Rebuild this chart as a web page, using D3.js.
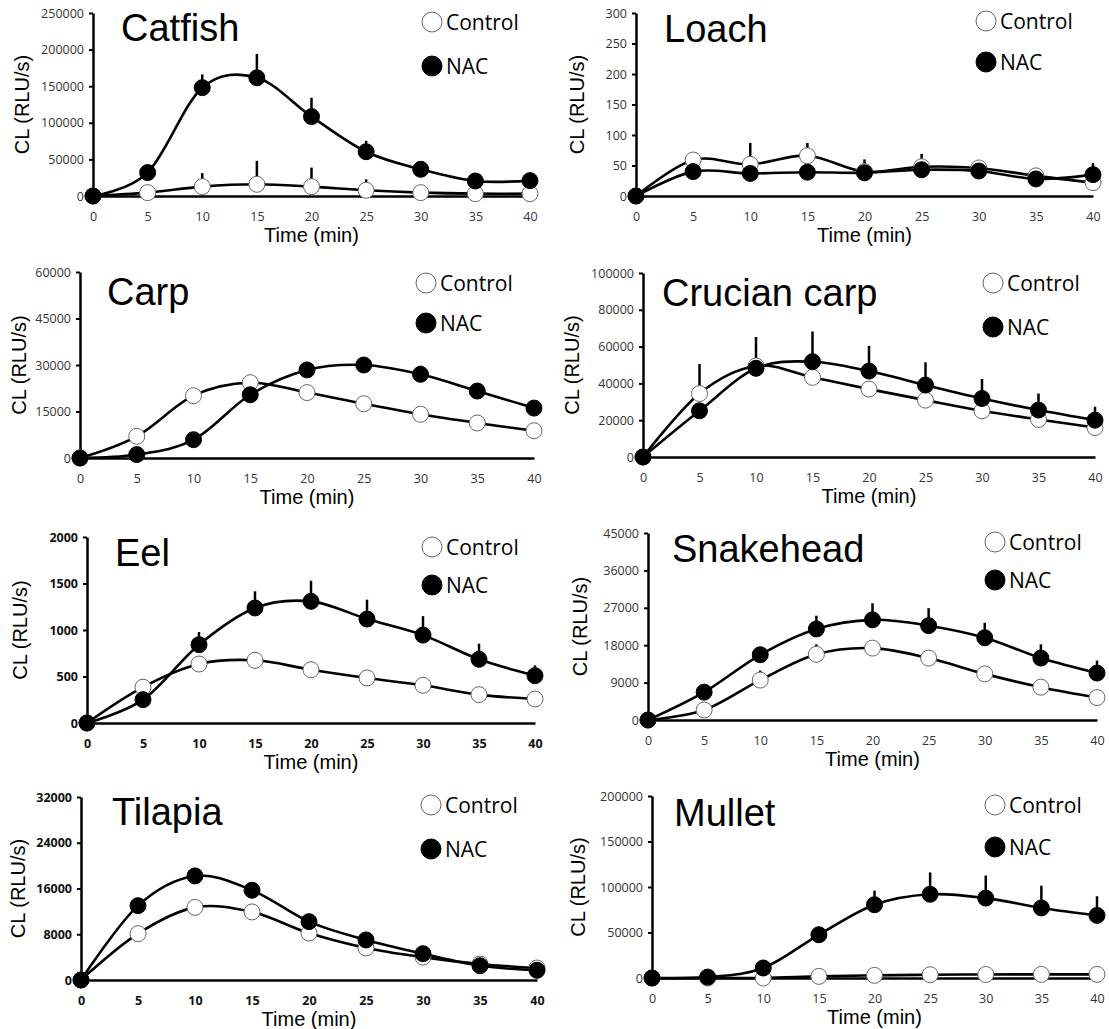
<!DOCTYPE html>
<html>
<head>
<meta charset="utf-8">
<script src="https://cdn.jsdelivr.net/npm/d3@7"></script>
<style>
  body { margin: 0; background: #fff; }
  svg { display: block; }
</style>
</head>
<body>
<div id="chart"></div>
<script>
// sampling times (min)
const times = [0, 5, 10, 15, 20, 25, 30, 35, 40];

// CL (RLU/s), means and SD (0 = bar not visible)
const catfishControl = [0, 4600, 12800, 16000, 12800, 7800, 4600, 3200, 3200];
const catfishNac = [0, 32000, 148000, 161500, 108500, 60500, 36500, 20500, 21000];
const catfishControlErr = [0, 0, 18400, 32000, 26000, 15000, 0, 0, 0];
const catfishNacErr = [0, 0, 18000, 32500, 25700, 15000, 0, 0, 0];

const loachControl = [0, 59, 52, 66, 40, 48, 46, 33, 22];
const loachNac = [0, 40, 37, 39, 38, 43, 41, 28, 35];
const loachControlErr = [0, 0, 35, 21, 0, 21, 0, 13, 0];
const loachNacErr = [0, 0, 0, 0, 22, 0, 0, 0, 19];

const carpControl = [0, 7000, 20100, 24300, 21100, 17500, 14100, 11300, 8800];
const carpNac = [0, 1100, 5900, 20400, 28400, 30000, 27000, 21600, 16100];
const carpControlErr = [0, 0, 0, 0, 0, 0, 0, 0, 0];
const carpNacErr = [0, 0, 0, 0, 0, 0, 2800, 2000, 0];

const crucianControl = [0, 34500, 49500, 43300, 36900, 30900, 25100, 20400, 16000];
const crucianNac = [0, 25100, 48200, 51800, 46700, 39100, 31800, 25500, 20000];
const crucianControlErr = [0, 16000, 0, 0, 0, 0, 0, 0, 0];
const crucianNacErr = [0, 0, 17000, 16400, 13700, 12400, 10600, 9000, 7300];

const eelControl = [0, 385, 634, 674, 573, 484, 405, 305, 258];
const eelNac = [0, 251, 842, 1237, 1308, 1118, 945, 685, 509];
const eelControlErr = [0, 0, 0, 0, 0, 0, 0, 0, 0];
const eelNacErr = [0, 0, 136, 179, 222, 208, 204, 168, 111];

const snakeheadControl = [0, 2400, 9600, 15800, 17300, 14900, 11100, 7900, 5400];
const snakeheadNac = [0, 6700, 15700, 21900, 24100, 22700, 19800, 14900, 11300];
const snakeheadControlErr = [0, 0, 2300, 2400, 0, 0, 0, 0, 0];
const snakeheadNacErr = [0, 0, 0, 3200, 4000, 4200, 3600, 3300, 3000];

const tilapiaControl = [0, 8100, 12700, 11900, 8200, 5600, 4000, 2800, 2100];
const tilapiaNac = [0, 13000, 18200, 15700, 10200, 7000, 4600, 2500, 1700];
const tilapiaControlErr = [0, 0, 0, 0, 0, 0, 0, 0, 0];
const tilapiaNacErr = [0, 0, 0, 0, 0, 0, 0, 0, 0];

const mulletControl = [0, 0, 0, 1800, 2900, 3600, 3900, 4000, 4000];
const mulletNac = [0, 1000, 11000, 47500, 80500, 92000, 87800, 77000, 68800];
const mulletControlErr = [0, 0, 0, 0, 0, 0, 0, 0, 0];
const mulletNacErr = [0, 0, 0, 9000, 15400, 24000, 24800, 24500, 21000];

// y-axis tick values per panel
const catfishTicks = [0, 50000, 100000, 150000, 200000, 250000];
const loachTicks = [0, 50, 100, 150, 200, 250, 300];
const carpTicks = [0, 15000, 30000, 45000, 60000];
const crucianTicks = [0, 20000, 40000, 60000, 80000, 100000];
const eelTicks = [0, 500, 1000, 1500, 2000];
const snakeheadTicks = [0, 9000, 18000, 27000, 36000, 45000];
const tilapiaTicks = [0, 8000, 16000, 24000, 32000];
const mulletTicks = [0, 50000, 100000, 150000, 200000];

const labels = ['Control', 'NAC'];

const W = 1109, H = 1029;

// panel placement on the page
const panels = [
  { name: 'Catfish', control: catfishControl, nac: catfishNac, cErr: catfishControlErr, nErr: catfishNacErr, ticks: catfishTicks,
    x0: 93, x1: 530, y0: 196, y1: 13, tx: 121, ty: 41, lx: 432, ly: [22, 66], yl: 22, bold: false },
  { name: 'Loach', control: loachControl, nac: loachNac, cErr: loachControlErr, nErr: loachNacErr, ticks: loachTicks,
    x0: 636, x1: 1093, y0: 196, y1: 13, tx: 664, ty: 42, lx: 986, ly: [21, 62], yl: 577, bold: false },
  { name: 'Carp', control: carpControl, nac: carpNac, cErr: carpControlErr, nErr: carpNacErr, ticks: carpTicks,
    x0: 80, x1: 534, y0: 458, y1: 272, tx: 107, ty: 305, lx: 426, ly: [283, 323], yl: 19, bold: false },
  { name: 'Crucian carp', control: crucianControl, nac: crucianNac, cErr: crucianControlErr, nErr: crucianNacErr, ticks: crucianTicks,
    x0: 643, x1: 1095, y0: 457, y1: 273, tx: 662, ty: 306, lx: 993, ly: [283, 327], yl: 572, bold: false },
  { name: 'Eel', control: eelControl, nac: eelNac, cErr: eelControlErr, nErr: eelNacErr, ticks: eelTicks,
    x0: 87, x1: 535, y0: 723, y1: 537, tx: 115, ty: 566, lx: 432, ly: [547, 585], yl: 20, bold: true },
  { name: 'Snakehead', control: snakeheadControl, nac: snakeheadNac, cErr: snakeheadControlErr, nErr: snakeheadNacErr, ticks: snakeheadTicks,
    x0: 648, x1: 1097, y0: 720, y1: 533, tx: 672, ty: 562, lx: 995, ly: [542, 580], yl: 580, bold: false },
  { name: 'Tilapia', control: tilapiaControl, nac: tilapiaNac, cErr: tilapiaControlErr, nErr: tilapiaNacErr, ticks: tilapiaTicks,
    x0: 81, x1: 537, y0: 980, y1: 797, tx: 112, ty: 825, lx: 431, ly: [805, 849], yl: 18, bold: true },
  { name: 'Mullet', control: mulletControl, nac: mulletNac, cErr: mulletControlErr, nErr: mulletNacErr, ticks: mulletTicks,
    x0: 652, x1: 1097, y0: 978, y1: 796, tx: 674, ty: 826, lx: 995, ly: [805, 847], yl: 578, bold: false }
];

const svg = d3.select('#chart').append('svg')
  .attr('width', W)
  .attr('height', H)
  .style('background', '#fff');

const styleTicks = (sel, bold) => sel.selectAll('.tick text')
  .attr('font-family', '"Open Sans", sans-serif')
  .attr('font-size', 12.5)
  .attr('font-weight', bold ? 700 : 400)
  .attr('fill', bold ? '#111' : '#333');

const drawPanel = p => {
  const g = svg.append('g');
  const x = d3.scaleLinear().domain([0, 40]).range([p.x0, p.x1]);
  const y = d3.scaleLinear().domain([0, d3.max(p.ticks)]).range([p.y0, p.y1]);

  // y axis (line + short ticks, labels to the left)
  const yAxis = d3.axisLeft(y).tickValues(p.ticks).tickFormat(d3.format('d'))
    .tickSize(4).tickSizeOuter(0).tickPadding(5);
  const ya = g.append('g').attr('transform', `translate(${p.x0},0)`).call(yAxis);
  ya.select('.domain').attr('stroke', '#000').attr('stroke-width', 2.5);
  ya.selectAll('.tick line').attr('stroke', '#000').attr('stroke-width', 2);
  styleTicks(ya, p.bold);

  // x axis (line at zero, labels below)
  const xAxis = d3.axisBottom(x).tickValues(times).tickFormat(d3.format('d'))
    .tickSize(0).tickSizeOuter(0).tickPadding(16);
  const xa = g.append('g').attr('transform', `translate(0,${p.y0})`).call(xAxis);
  xa.select('.domain').attr('stroke', '#000').attr('stroke-width', 2.5);
  styleTicks(xa, p.bold);

  // axis titles
  g.append('text')
    .attr('x', (p.x0 + p.x1) / 2)
    .attr('y', p.y0 + 46)
    .attr('text-anchor', 'middle')
    .attr('font-family', '"Liberation Sans", Arial, sans-serif')
    .attr('font-size', 20)
    .text('Time (min)');

  g.append('text')
    .attr('transform', `translate(${p.yl},${(p.y0 + p.y1) / 2}) rotate(-90)`)
    .attr('text-anchor', 'middle')
    .attr('dominant-baseline', 'central')
    .attr('font-family', '"Liberation Sans", Arial, sans-serif')
    .attr('font-size', 20)
    .text('CL (RLU/s)');

  // fish name
  g.append('text')
    .attr('x', p.tx)
    .attr('y', p.ty)
    .attr('font-family', '"Liberation Sans", Arial, sans-serif')
    .attr('font-size', 38)
    .text(p.name);

  const line = d3.line()
    .x((d, i) => x(times[i]))
    .y(d => y(d))
    .curve(d3.curveCardinal.tension(0));

  const series = [
    { vals: p.control, err: p.cErr, fill: '#fff', stroke: '#666' },
    { vals: p.nac, err: p.nErr, fill: '#000', stroke: '#000' }
  ];

  series.forEach(s => {
    g.append('path')
      .attr('d', line(s.vals))
      .attr('fill', 'none')
      .attr('stroke', '#000')
      .attr('stroke-width', 2.6);
  });

  series.forEach(s => {
    g.append('g').selectAll('line')
      .data(s.vals.map((v, i) => ({ t: times[i], v, e: s.err[i] })).filter(d => d.e > 0))
      .join('line')
      .attr('x1', d => x(d.t))
      .attr('x2', d => x(d.t))
      .attr('y1', d => y(d.v))
      .attr('y2', d => y(d.v + d.e))
      .attr('stroke', '#000')
      .attr('stroke-width', 2.5);
  });

  series.forEach(s => {
    g.append('g').selectAll('circle')
      .data(s.vals)
      .join('circle')
      .attr('cx', (d, i) => x(times[i]))
      .attr('cy', d => y(d))
      .attr('r', 8)
      .attr('fill', s.fill)
      .attr('stroke', s.stroke)
      .attr('stroke-width', 1);
  });

  // legend
  const leg = g.append('g');
  labels.forEach((lab, i) => {
    leg.append('circle')
      .attr('cx', p.lx)
      .attr('cy', p.ly[i])
      .attr('r', 10)
      .attr('fill', series[i].fill)
      .attr('stroke', series[i].stroke)
      .attr('stroke-width', 1);
    leg.append('text')
      .attr('x', p.lx + 14)
      .attr('y', p.ly[i])
      .attr('dominant-baseline', 'central')
      .attr('font-family', '"Open Sans", sans-serif')
      .attr('font-size', 21)
      .text(lab);
  });
};

panels.forEach(drawPanel);
</script>
</body>
</html>
